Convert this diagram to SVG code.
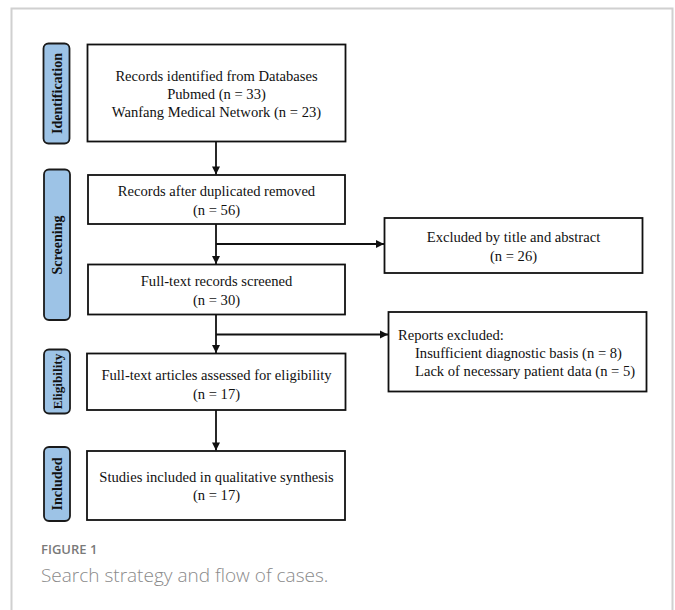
<svg xmlns="http://www.w3.org/2000/svg" width="675" height="610" viewBox="0 0 675 610">
<style>
.box{fill:#fff;stroke:#111;stroke-width:1.8}
.pill{fill:#9dc3e6;stroke:#1a1a1a;stroke-width:1.8}
.t{font-family:"Liberation Serif","Times New Roman",serif;font-size:14.6px;fill:#111;text-anchor:middle}
.tl{font-family:"Liberation Serif","Times New Roman",serif;font-size:14.6px;fill:#111}
.pt{font-family:"Liberation Serif","Times New Roman",serif;font-size:14px;font-weight:bold;fill:#111;text-anchor:middle}
.ln{stroke:#111;stroke-width:1.8;fill:none}
</style>
<defs>
<marker id="ah" viewBox="0 0 10 10" refX="10" refY="5" markerWidth="4.5" markerHeight="4.5" orient="auto" markerUnits="strokeWidth">
<path d="M0,0 L10,5 L0,10 z" fill="#111"/>
</marker>
</defs>
<rect width="675" height="610" fill="#fff"/>
<path d="M11.5,620 V8.5 H672.5 V620" fill="none" stroke="#d0d0d0" stroke-width="2"/>

<g id="pill-identification"><rect class="pill" x="43.5" y="43.5" width="26" height="100" rx="5"/><text class="pt" transform="translate(61.5,93.5) rotate(-90)">Identification</text></g>
<g id="pill-screening"><rect class="pill" x="44" y="169.5" width="26" height="150.5" rx="5"/><text class="pt" transform="translate(62,245) rotate(-90)">Screening</text></g>
<g id="pill-eligibility"><rect class="pill" x="44" y="349.5" width="26" height="64" rx="5"/><text class="pt" transform="translate(62,381.5) rotate(-90)" style="font-size:13.2px">Eligibility</text></g>
<g id="pill-included"><rect class="pill" x="44" y="447" width="26" height="74" rx="5"/><text class="pt" transform="translate(62,484) rotate(-90)">Included</text></g>

<g id="box-identified"><rect class="box" x="87.5" y="44.5" width="258" height="97"/><text class="t" x="216.5" y="81">Records identified from Databases</text><text class="t" x="216.5" y="99">Pubmed (n = 33)</text><text class="t" x="216.5" y="117">Wanfang Medical Network (n = 23)</text></g>
<g id="box-duplicates"><rect class="box" x="88" y="175" width="257" height="49"/><text class="t" x="216.5" y="196">Records after duplicated removed</text><text class="t" x="216.5" y="215">(n = 56)</text></g>
<g id="box-screened"><rect class="box" x="88" y="264.5" width="257" height="50"/><text class="t" x="216.5" y="286">Full-text records screened</text><text class="t" x="216.5" y="305">(n = 30)</text></g>
<g id="box-eligibility"><rect class="box" x="87" y="353.5" width="258.5" height="56.5"/><text class="t" x="216.5" y="380">Full-text articles assessed for eligibility</text><text class="t" x="216.5" y="399">(n = 17)</text></g>
<g id="box-included"><rect class="box" x="87" y="451" width="258" height="69"/><text class="t" x="216.5" y="482">Studies included in qualitative synthesis</text><text class="t" x="216.5" y="500">(n = 17)</text></g>
<g id="box-excluded-title"><rect class="box" x="384.5" y="218" width="258" height="55"/><text class="t" x="513.5" y="242">Excluded by title and abstract</text><text class="t" x="513.5" y="261">(n = 26)</text></g>
<g id="box-reports-excluded"><rect class="box" x="388.5" y="312" width="258" height="79.5"/><text class="tl" x="398" y="340">Reports excluded:</text><text class="tl" x="415" y="358">Insufficient diagnostic basis (n = 8)</text><text class="tl" x="415" y="376">Lack of necessary patient data (n = 5)</text></g>

<g id="connectors">
<line class="ln" x1="216" y1="141.5" x2="216" y2="174.5" marker-end="url(#ah)"/>
<line class="ln" x1="216" y1="224" x2="216" y2="264" marker-end="url(#ah)"/>
<line class="ln" x1="216" y1="244" x2="384" y2="244" marker-end="url(#ah)"/>
<line class="ln" x1="216" y1="314.5" x2="216" y2="353" marker-end="url(#ah)"/>
<line class="ln" x1="216" y1="334.5" x2="388" y2="334.5" marker-end="url(#ah)"/>
<line class="ln" x1="216" y1="410" x2="216" y2="450.5" marker-end="url(#ah)"/>
</g>

<text x="41" y="554" font-family="'Open Sans','Noto Sans',sans-serif" font-size="13" font-weight="600" fill="#7a7a7a">FIGURE 1</text>
<text x="41" y="582" font-family="'Open Sans','Noto Sans',sans-serif" font-size="19" font-weight="300" fill="#8a8a8a">Search strategy and flow of cases.</text>
</svg>
